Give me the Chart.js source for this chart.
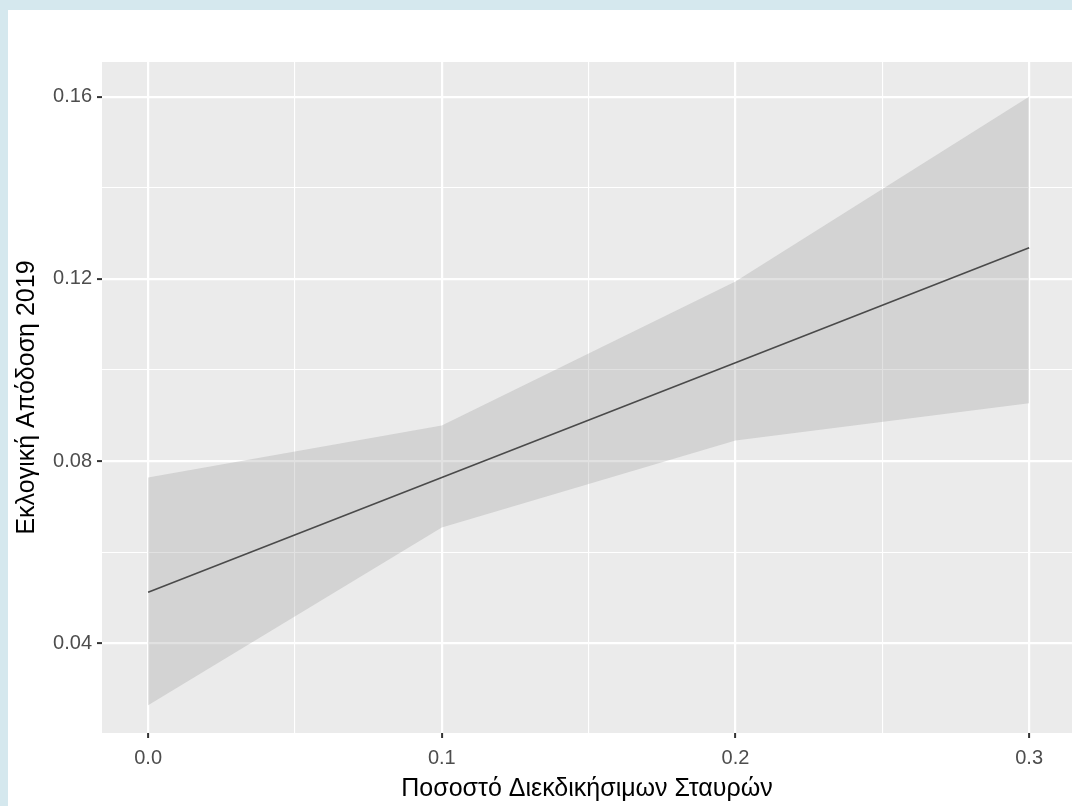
<!DOCTYPE html>
<html>
<head>
<meta charset="utf-8">
<script src="https://cdn.jsdelivr.net/npm/chart.js@4"></script>
<style>
  html, body { margin: 0; padding: 0; background: #d5e8ee; width: 1072px; height: 806px; overflow: hidden; }
  #wrap { position: absolute; left: 8px; top: 10px; width: 1064px; height: 796px; background: #ffffff; }
  canvas { display: block; }
</style>
</head>
<body>
<div id="wrap"><canvas id="c" width="1064" height="796"></canvas></div>
<script>
// Data
const xValues = [0.0, 0.1, 0.2, 0.3];
const fitValues = [0.0512, 0.0764, 0.1016, 0.1268];
const upperValues = [0.0764, 0.0878, 0.1194, 0.1600];
const lowerValues = [0.0264, 0.0654, 0.0845, 0.0927];

const xTickValues = [0.0, 0.05, 0.1, 0.15, 0.2, 0.25, 0.3];
const xTickLabels = ['0.0', '', '0.1', '', '0.2', '', '0.3'];
const yTickValues = [0.04, 0.06, 0.08, 0.10, 0.12, 0.14, 0.16];
const yTickLabels = ['0.04', '', '0.08', '', '0.12', '', '0.16'];

const xTitle = 'Ποσοστό Διεκδικήσιμων Σταυρών';
const yTitle = 'Εκλογική Απόδοση 2019';

const toPts = (ys) => xValues.map((x, i) => ({ x: x, y: ys[i] }));

const panelBg = {
  id: 'panelBg',
  beforeDraw(chart) {
    const { ctx, chartArea: a } = chart;
    ctx.save();
    ctx.fillStyle = '#ebebeb';
    ctx.fillRect(a.left, a.top, a.right - a.left, a.bottom - a.top);
    ctx.restore();
  }
};

const isMajor = (labels, ctx) => ctx.index !== undefined && labels[ctx.index] !== '' && labels[ctx.index] !== undefined;

new Chart(document.getElementById('c'), {
  type: 'line',
  data: {
    datasets: [
      {
        label: 'upper',
        data: toPts(upperValues),
        borderWidth: 0,
        borderColor: 'rgba(0,0,0,0)',
        backgroundColor: 'rgba(153,153,153,0.29)',
        pointRadius: 0,
        fill: '+1',
        tension: 0
      },
      {
        label: 'lower',
        data: toPts(lowerValues),
        borderWidth: 0,
        borderColor: 'rgba(0,0,0,0)',
        pointRadius: 0,
        fill: false,
        tension: 0
      },
      {
        label: 'fit',
        data: toPts(fitValues),
        borderColor: '#2b2b2b',
        borderWidth: 1.6,
        pointRadius: 0,
        fill: false,
        tension: 0
      }
    ]
  },
  options: {
    responsive: false,
    animation: false,
    devicePixelRatio: 1,
    layout: { padding: { top: 52, left: 0, right: 0, bottom: 0 } },
    plugins: { legend: { display: false }, tooltip: { enabled: false } },
    scales: {
      x: {
        type: 'linear',
        min: -0.0157,
        max: 0.3146,
        afterBuildTicks: (s) => { s.ticks = xTickValues.map(v => ({ value: v })); },
        afterFit: (s) => { s.height = 73; },
        border: { display: false },
        grid: {
          color: '#ffffff',
          lineWidth: (ctx) => isMajor(xTickLabels, ctx) ? 2.2 : 1.1,
          drawTicks: true,
          tickLength: 5,
          tickColor: (ctx) => isMajor(xTickLabels, ctx) ? '#333333' : 'rgba(0,0,0,0)',
          tickWidth: 2
        },
        ticks: {
          autoSkip: false,
          maxRotation: 0,
          padding: 8,
          color: '#4d4d4d',
          font: { family: 'Liberation Sans', size: 20 },
          callback: (v, i) => xTickLabels[i]
        },
        title: {
          display: true,
          text: xTitle,
          color: '#000000',
          font: { family: 'Liberation Sans', size: 25 },
          padding: { top: 0, bottom: 2 }
        }
      },
      y: {
        type: 'linear',
        min: 0.0203,
        max: 0.1676,
        afterBuildTicks: (s) => { s.ticks = yTickValues.map(v => ({ value: v })); },
        afterFit: (s) => { s.width = 94; },
        border: { display: false },
        grid: {
          color: '#ffffff',
          lineWidth: (ctx) => isMajor(yTickLabels, ctx) ? 2.2 : 1.1,
          drawTicks: true,
          tickLength: 5,
          tickColor: (ctx) => isMajor(yTickLabels, ctx) ? '#333333' : 'rgba(0,0,0,0)',
          tickWidth: 2
        },
        ticks: {
          autoSkip: false,
          padding: 5,
          color: '#4d4d4d',
          font: { family: 'Liberation Sans', size: 20 },
          callback: (v, i) => yTickLabels[i]
        },
        title: {
          display: true,
          text: yTitle,
          color: '#000000',
          font: { family: 'Liberation Sans', size: 25 },
          padding: { top: 4, bottom: 0 }
        }
      }
    }
  },
  plugins: [panelBg]
});
</script>
</body>
</html>
